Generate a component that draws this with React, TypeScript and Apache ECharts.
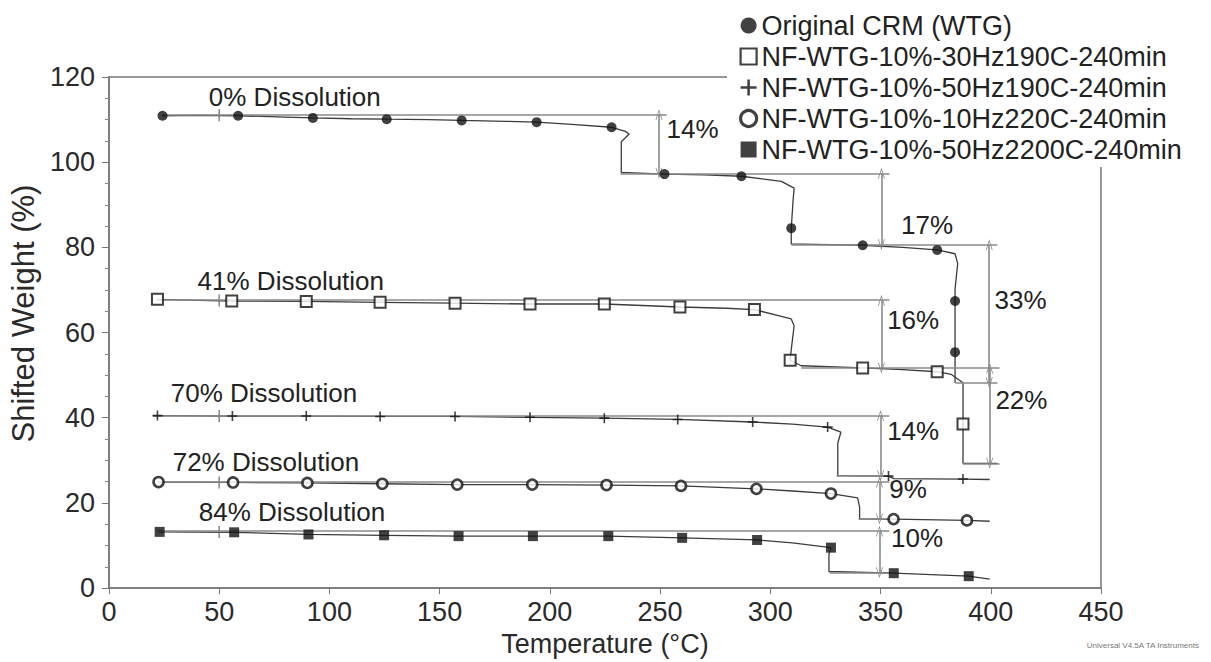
import React, { useEffect, useRef } from "react";
import * as echarts from "echarts";

// ---------- data ----------
const seriesNames = [
  "Original CRM (WTG)",
  "NF-WTG-10%-30Hz190C-240min",
  "NF-WTG-10%-50Hz190C-240min",
  "NF-WTG-10%-10Hz220C-240min",
  "NF-WTG-10%-50Hz2200C-240min",
];

const crmCurve: number[][] = [
  [24.3, 110.9], [40, 111.0], [58.6, 110.9], [80, 110.6], [92.5, 110.4], [110, 110.2], [126, 110.1],
  [145, 110.0], [160, 109.8], [180, 109.6], [194, 109.4], [210, 108.9], [228, 108.2], [234, 107.3],
  [236, 106.6], [232.4, 104.8], [232.4, 97.6], [252, 97.2], [270, 97.0], [286.9, 96.7], [305, 95.5],
  [310.8, 93.9], [310.3, 90.9], [309.5, 84.5], [309.5, 80.8], [320, 80.7], [341.9, 80.5], [360, 80.0],
  [375.7, 79.4], [383.8, 78.5], [385, 76.2], [383.8, 70.2], [383.8, 67.4], [383.8, 55.4], [383.8, 48.2],
];
const crmMarkers: number[][] = [
  [24.3, 110.9], [58.6, 110.9], [92.5, 110.4], [126, 110.1], [160, 109.8], [194, 109.4], [228, 108.2],
  [252, 97.2], [286.9, 96.7], [309.5, 84.5], [341.9, 80.5], [375.7, 79.4], [383.8, 67.4], [383.8, 55.4],
];

const hz30Curve: number[][] = [
  [22, 67.8], [55.7, 67.4], [89.5, 67.3], [123, 67.1], [157, 66.9], [191, 66.7], [224.7, 66.7],
  [259, 66.0], [280, 65.7], [292.8, 65.4], [305, 63.8], [309.5, 63.2], [310.8, 61.6], [309.5, 56],
  [309, 53.5], [314, 52.2], [341.9, 51.7], [360, 51.3], [375.7, 50.8], [382, 50.2], [387.4, 48.2],
  [387.4, 38.5], [387.4, 29.3], [403, 29.3],
];
const hz30Markers: number[][] = [
  [22, 67.8], [55.7, 67.4], [89.5, 67.3], [123, 67.1], [157, 66.9], [191, 66.7], [224.7, 66.7],
  [259, 66.0], [292.8, 65.4], [309, 53.5], [341.9, 51.7], [375.7, 50.8], [387.4, 38.5],
];

const hz50Curve: number[][] = [
  [20, 40.5], [56, 40.4], [89.5, 40.4], [123, 40.3], [157, 40.3], [191, 40.1], [224.7, 39.9],
  [258, 39.6], [292, 39.0], [310, 38.5], [326, 37.8], [332, 36.6], [330.6, 34], [330.6, 26.4],
  [353.6, 26.3], [356, 25.7], [387.4, 25.6], [399.5, 25.5],
];
const hz50Markers: number[][] = [
  [22, 40.5], [56, 40.4], [89.5, 40.4], [123, 40.3], [157, 40.3], [191, 40.1], [224.7, 39.9],
  [258, 39.6], [292, 39.0], [326, 37.8], [353.6, 26.3], [387.4, 25.6],
];

const hz10Curve: number[][] = [
  [22.5, 24.9], [56.3, 24.8], [90, 24.7], [124, 24.5], [158, 24.3], [192, 24.3], [225.7, 24.2],
  [259.5, 24.0], [293.7, 23.3], [310, 22.8], [327.5, 22.2], [339.6, 21.2], [340.5, 19], [340.5, 16.2],
  [355.9, 16.2], [389.2, 15.9], [399.5, 15.7],
];
const hz10Markers: number[][] = [
  [22.5, 24.9], [56.3, 24.8], [90, 24.7], [124, 24.5], [158, 24.3], [192, 24.3], [225.7, 24.2],
  [259.5, 24.0], [293.7, 23.3], [327.5, 22.2], [355.9, 16.2], [389.2, 15.9],
];

const hz2200Curve: number[][] = [
  [23, 13.2], [56.8, 13.1], [90.5, 12.6], [124.8, 12.4], [158.6, 12.2], [192.3, 12.2], [226.5, 12.2],
  [260, 11.8], [294, 11.3], [310, 10.6], [327.5, 9.5], [326.6, 8], [326.6, 3.9], [356, 3.5],
  [390, 2.8], [399.5, 2.1],
];
const hz2200Markers: number[][] = [
  [23, 13.2], [56.8, 13.1], [90.5, 12.6], [124.8, 12.4], [158.6, 12.2], [192.3, 12.2], [226.5, 12.2],
  [260, 11.8], [294, 11.3], [327.5, 9.5], [356, 3.5], [390, 2.8],
];

// small vertical marks on each curve at 50 °C
const tickMarks50: number[][] = [[50, 111.0], [50, 67.5], [50, 40.4], [50, 24.8], [50, 13.2]];

// horizontal reference lines: [xStart, xEnd, y]
const refLines: number[][] = [
  [24, 253, 111.2], [232, 354, 97.4], [309.5, 403, 80.6], [384, 403, 48.2],
  [22, 354, 67.6], [314, 404, 51.7], [387.4, 404, 29.3],
  [20, 354, 40.5], [330, 354, 26.4],
  [22, 354, 24.9], [340, 352, 16.2],
  [22, 354, 13.4], [327, 352, 3.6],
];

// double-arrow brackets: [x, yTop, yBottom]
const brackets: number[][] = [
  [249.5, 111.2, 97.4], [350.4, 97.4, 80.6], [399.3, 80.6, 48.2], [350.4, 67.6, 51.7],
  [399.5, 51.7, 29.3], [350, 40.5, 26.4], [349.5, 24.9, 16.2], [349.5, 13.4, 3.6],
];

// annotation texts: [x, y] and text
const annotTexts = [
  "0% Dissolution", "41% Dissolution", "70% Dissolution", "72% Dissolution", "84% Dissolution",
  "14%", "17%", "33%", "16%", "22%", "14%", "9%", "10%",
];
const annotPos: number[][] = [
  [84.3, 115.2], [82.5, 72.2], [70.3, 45.9], [71.2, 29.5], [83.0, 17.8],
  [264.7, 107.8], [371.1, 85.2], [413.5, 67.6], [364.8, 63.0], [413.9, 44.1],
  [364.8, 36.9], [362.5, 23.3], [366.6, 11.8],
];

const xTicks = { min: 0, max: 450, interval: 50 };
const yTicks = { min: 0, max: 120, interval: 20 };

// ---------- chart ----------
const FONT = "'Liberation Sans', Arial, sans-serif";
const plusPath = "path://M4.2,0h1.6v4.2h4.2v1.6h-4.2v4.2h-1.6v-4.2h-4.2v-1.6h4.2z";
const arrowPath = "path://M5,0L10,14L8.8,14L5,3.2L1.2,14L0,14Z";

export default function App() {
  const ref = useRef<HTMLDivElement>(null);

  useEffect(() => {
    if (!ref.current) return;
    const chart = echarts.init(ref.current, undefined, { renderer: "svg" });

    const curveStyle = { color: "#3c3c3c", width: 1.3 };
    const curves = [crmCurve, hz30Curve, hz50Curve, hz10Curve, hz2200Curve].map((d, i) => ({
      name: "curve" + i,
      type: "line",
      data: d,
      showSymbol: false,
      symbol: "none",
      silent: true,
      lineStyle: curveStyle,
      z: 3,
    }));

    const markerDefs = [
      { data: crmMarkers, symbol: "circle", size: 10, itemStyle: { color: "#111" } },
      { data: hz30Markers, symbol: "rect", size: 11, itemStyle: { color: "#fff", borderColor: "#111", borderWidth: 2 } },
      { data: hz50Markers, symbol: plusPath, size: 10, itemStyle: { color: "#111" } },
      { data: hz10Markers, symbol: "circle", size: 10, itemStyle: { color: "#fff", borderColor: "#111", borderWidth: 2.6 } },
      { data: hz2200Markers, symbol: "rect", size: 10, itemStyle: { color: "#111" } },
    ];
    const markers = markerDefs.map((m, i) => ({
      name: seriesNames[i],
      type: "scatter",
      data: m.data,
      symbol: m.symbol,
      symbolSize: m.size,
      itemStyle: m.itemStyle,
      z: 5,
    }));

    const legendData = seriesNames.map((n, i) => {
      if (i === 1) return { name: n, itemStyle: { color: "#fff", borderColor: "#111", borderWidth: 2.2 } };
      if (i === 3) return { name: n, itemStyle: { color: "#fff", borderColor: "#111", borderWidth: 3.2 } };
      return { name: n };
    });

    const markLineData: any[] = [];
    refLines.forEach(([x1, x2, y]) => {
      markLineData.push([
        { coord: [x1, y], symbol: "none" },
        { coord: [x2, y], symbol: "none" },
      ]);
    });
    brackets.forEach(([x, yt, yb]) => {
      markLineData.push([
        { coord: [x, yt], symbol: arrowPath },
        { coord: [x, yb], symbol: arrowPath },
      ]);
    });

    const option: any = {
      animation: false,
      backgroundColor: "#fff",
      title: {
        text: "Universal V4.5A TA Instruments",
        right: 6,
        top: 636,
        textStyle: { fontSize: 8, color: "#777", fontWeight: "normal", fontFamily: FONT },
      },
      legend: {
        data: legendData,
        orient: "vertical",
        left: 727,
        top: 0,
        padding: [12, 14, 4, 12],
        itemGap: 4,
        itemWidth: 16,
        itemHeight: 16,
        backgroundColor: "#fff",
        textStyle: { fontSize: 27, color: "#222", fontFamily: FONT },
        selectedMode: false,
      },
      grid: {
        left: 103,
        right: 110,
        top: 77,
        bottom: 65,
        show: true,
        borderColor: "#777",
        borderWidth: 1.5,
        backgroundColor: "transparent",
      },
      xAxis: {
        type: "value",
        min: xTicks.min,
        max: xTicks.max,
        interval: xTicks.interval,
        name: "Temperature (°C)",
        nameLocation: "middle",
        nameGap: 32,
        nameTextStyle: { fontSize: 27, color: "#2a2a2a", fontFamily: FONT },
        axisLine: { show: true, lineStyle: { color: "#777", width: 1.5 } },
        axisTick: { show: true, inside: false, length: 6, lineStyle: { color: "#777" } },
        axisLabel: { fontSize: 27, color: "#2a2a2a", margin: 10, fontFamily: FONT },
        splitLine: { show: false },
      },
      yAxis: {
        type: "value",
        min: yTicks.min,
        max: yTicks.max,
        interval: yTicks.interval,
        name: "Shifted Weight (%)",
        nameLocation: "middle",
        nameGap: 65,
        nameTextStyle: { fontSize: 31, color: "#2a2a2a", fontFamily: FONT, padding: [0, 0, 0, 38] },
        axisLine: { show: true, lineStyle: { color: "#777", width: 1.5 } },
        axisTick: { show: true, inside: false, length: 7, lineStyle: { color: "#777" } },
        minorTick: { show: true, splitNumber: 4, length: 4, lineStyle: { color: "#888" } },
        axisLabel: { fontSize: 27, color: "#2a2a2a", margin: 14, fontFamily: FONT },
        splitLine: { show: false },
      },
      series: [
        {
          name: "annotations",
          type: "line",
          data: [],
          silent: true,
          z: 2,
          markLine: {
            silent: true,
            symbolSize: [7, 11],
            label: { show: false },
            lineStyle: { color: "#8a8a8a", width: 1.6, type: "solid" },
            emphasis: { disabled: true },
            data: markLineData,
          },
        },
        ...curves,
        {
          name: "ticks50",
          type: "scatter",
          data: tickMarks50,
          symbol: "rect",
          symbolSize: [1.5, 12],
          itemStyle: { color: "#666" },
          silent: true,
          z: 4,
        },
        ...markers,
        {
          name: "labels",
          type: "scatter",
          data: annotPos.map((p, i) => ({ value: p, name: annotTexts[i] })),
          symbolSize: 0,
          itemStyle: { color: "#222" },
          silent: true,
          z: 6,
          label: {
            show: true,
            position: "inside",
            formatter: (p: any) => p.name,
            fontSize: 26,
            color: "#222",
            opacity: 1,
            textBorderWidth: 0,
            fontFamily: FONT,
            align: "center",
            verticalAlign: "middle",
          },
        },
      ],
    };

    chart.setOption(option);
    return () => chart.dispose();
  }, []);

  return (
    <div
      ref={ref}
      style={{ position: "absolute", left: 0, top: 0, width: 1211, height: 662, background: "#fff" }}
    />
  );
}
